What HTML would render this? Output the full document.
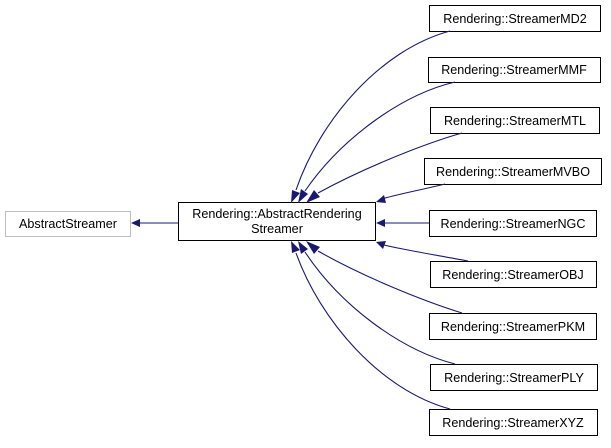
<!DOCTYPE html>
<html><head><style>
body{margin:0;background:#fff;width:611px;height:443px;overflow:hidden}
svg text{font-family:"Liberation Sans",sans-serif;font-size:12.6px}
</style></head><body>
<svg width="611" height="443" viewBox="0 0 611 443">
<g fill="#fff" stroke="#000" stroke-width="1">
<rect x="5.5" y="211.5" width="125" height="25" stroke="#bfbfbf"/>
<rect x="178.5" y="202.5" width="197" height="38"/>
<rect x="429.5" y="5.5" width="171" height="26"/>
<rect x="428.5" y="57.5" width="172" height="25"/>
<rect x="430.5" y="107.5" width="169" height="26"/>
<rect x="424.5" y="158.5" width="177" height="26"/>
<rect x="429.5" y="210.5" width="167" height="26"/>
<rect x="430.5" y="261.5" width="166" height="26"/>
<rect x="429.5" y="313.5" width="167" height="26"/>
<rect x="430.5" y="364.5" width="167" height="26"/>
<rect x="429.5" y="409.5" width="168" height="26"/>
</g>
<g fill="none" stroke="#191970" stroke-width="1.1">
<path d="M178,223 H138"/>
<path d="M429,223 H384"/>
<path d="M450,31 C380,50 320,120 296,190"/>
<path d="M455,82 C400,95 340,140 305,191"/>
<path d="M462,133 C420,145 360,170 318,193"/>
<path d="M445,184 C420,190 390,196 382,199"/>
<path d="M468,261 C430,254 400,249 384,245"/>
<path d="M462,313 C420,300 360,275 318,251"/>
<path d="M455,364 C400,350 340,305 305,252"/>
<path d="M450,409 C380,390 320,320 296,253"/>
</g>
<g fill="#191970">
<polygon points="131,223 140,219 140,227"/>
<polygon points="376,223 385,219 385,227"/>
<polygon points="291,203 292,190 300,193"/>
<polygon points="298,203 301,189 308,194"/>
<polygon points="306,203 314,190 320,197"/>
<polygon points="376,202 384,195 386,203"/>
<polygon points="376,242 386,241 383,249"/>
<polygon points="306,241 320,247 314,254"/>
<polygon points="298,241 308,249 301,254"/>
<polygon points="291,241 300,250 292,253"/>
</g>
<g fill="#000" text-anchor="middle">
<text x="68" y="228">AbstractStreamer</text>
<text x="277" y="218">Rendering::AbstractRendering</text>
<text x="277" y="233">Streamer</text>
<text x="515" y="23">Rendering::StreamerMD2</text>
<text x="514" y="74">Rendering::StreamerMMF</text>
<text x="515" y="125">Rendering::StreamerMTL</text>
<text x="513" y="176">Rendering::StreamerMVBO</text>
<text x="513" y="228">Rendering::StreamerNGC</text>
<text x="513" y="279">Rendering::StreamerOBJ</text>
<text x="513" y="331">Rendering::StreamerPKM</text>
<text x="514" y="382">Rendering::StreamerPLY</text>
<text x="513" y="427">Rendering::StreamerXYZ</text>
</g>
</svg>
</body></html>
